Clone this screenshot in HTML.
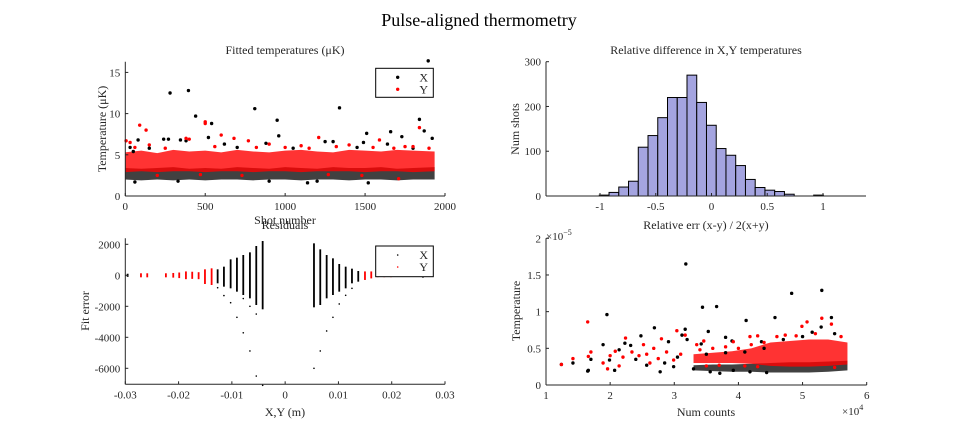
<!DOCTYPE html>
<html><head><meta charset="utf-8">
<style>
html,body{margin:0;padding:0;background:#fff;}
svg{display:block;font-family:"Liberation Serif",serif;}
.tk{font-size:11px;fill:#262626;}
.lb{font-size:12px;fill:#262626;}
</style></head>
<body>
<svg id="fig" width="958" height="434" viewBox="0 0 958 434">
<text x="479" y="26" text-anchor="middle" font-size="18" fill="#000">Pulse-aligned thermometry</text>
</svg>
<script>
// ---------- Panel 1: fitted temperatures ----------
const tempXTicks=[0,500,1000,1500,2000];
const tempYTicks=[0,5,10,15];
const tempBandShot=[0,100,200,300,400,500,600,700,800,900,1000,1100,1200,1300,1400,1500,1600,1700,1800,1935];
const blackBandLow=[2.0,1.9,2.0,1.9,2.0,1.9,2.0,2.0,1.9,2.0,2.0,1.9,2.0,2.0,1.9,2.0,2.0,1.9,2.0,2.0];
const blackBandHigh=[3.4,3.3,3.4,3.5,3.3,3.4,3.3,3.5,3.4,3.3,3.5,3.4,3.3,3.5,3.4,3.4,3.5,3.3,3.4,3.5];
const redBandLow=[2.9,3.0,2.9,3.0,3.0,2.9,3.0,3.0,2.9,3.0,3.0,2.9,3.0,3.0,3.0,2.9,3.0,3.0,2.9,3.0];
const redBandHigh=[5.3,5.5,5.2,5.6,5.4,5.5,5.3,5.6,5.4,5.3,5.5,5.6,5.4,5.3,5.6,5.5,5.4,5.6,5.5,5.4];
const xOutShot=[280,395,440,540,520,810,950,960,1340,1510,1660,1730,1840,1870,1895,1920,80,240,270,345,380,880,1300,1490,60,1140,1520,30,50,620,1250,1640,150,700,1050,1450,1800,330,1200,900];
const xOutTemp=[12.5,12.8,9.7,8.8,7.1,10.6,9.2,7.3,10.7,7.6,7.8,7.2,9.3,7.9,16.4,7.0,6.8,6.9,6.9,6.8,6.7,6.4,6.6,6.5,1.7,1.6,1.6,5.9,5.4,6.3,6.6,6.3,5.8,5.9,5.8,5.9,5.8,1.8,1.8,1.8];
const yOutShot=[5,90,130,30,150,500,500,380,600,680,770,1210,1590,1840,1800,1710,400,900,1100,1400,1750,60,250,560,820,1000,1150,1320,1550,1680,1900,200,470,730,1270,1480];
const yOutTemp=[6.7,8.6,8.0,6.5,6.2,9.0,8.8,7.0,7.4,7.0,6.7,7.1,6.8,8.3,6.0,2.1,6.9,6.3,6.1,6.2,6.0,5.9,5.8,6.0,5.9,5.9,5.8,6.0,5.9,5.8,5.8,2.5,2.6,2.5,2.6,2.5];

// ---------- Panel 2: residuals ----------
const resXTicks=[-0.03,-0.02,-0.01,0,0.01,0.02,0.03];
const resYTicks=[2000,0,-2000,-4000,-6000];
const resBlackPos=[-0.02956,-0.01267,-0.01149,-0.01023,-0.00905,-0.00786,-0.00661,-0.00542,-0.00422,0.00541,0.00659,0.00779,0.00897,0.01015,0.01136,0.01254,0.01372,0.02586];
const resBlackTop=[100,385,557,1030,1137,1309,1481,1890,2212,2062,1675,1309,1095,729,557,428,277,0];
const resBlackBot=[-100,-518,-733,-841,-1056,-1271,-1486,-1916,-2195,-2066,-1916,-1486,-1271,-1056,-841,-518,-411,-150];
const resRedPos=[-0.02706,-0.02588,-0.02238,-0.02100,-0.01988,-0.01862,-0.01744,-0.01624,-0.01505,-0.01380,0.01498,0.01616,0.01736,0.01860,0.01986,0.02104,0.02224];
const resRedTop=[130,130,130,150,180,250,230,200,385,449,250,250,80,60,40,30,20];
const resRedBot=[-130,-130,-130,-150,-180,-250,-230,-250,-561,-626,-300,-200,-120,-120,-120,-110,-100];
const resOutPos=[-0.01267,-0.01149,-0.01023,-0.00905,-0.00786,-0.00786,-0.00661,-0.00661,-0.00542,-0.00542,-0.00422,0.00541,0.00659,0.00779,0.00897,0.01015,0.01136,0.01254];
const resOutVal=[-800,-1310,-1767,-2710,-1500,-3710,-2000,-4880,-2500,-6500,-7100,-6000,-4880,-3590,-2710,-1850,-1290,-840];

// ---------- Panel 3: histogram ----------
const histStart=-1.356;
const histWidth=0.0874;
const histCounts=[0,0,0,0,2,8,20,33,109,135,175,220,220,270,209,158,106,91,68,37,19,13,10,4,0,0,2,0,0,0,0];
const histXTicks=[-1,-0.5,0,0.5,1];
const histYTicks=[0,100,200,300];

// ---------- Panel 4: temperature vs counts ----------
const cntXTicks=[1,2,3,4,5,6];
const cntYTicks=[0,0.5,1,1.5,2];
const cntBandX=[3.3,3.6,3.9,4.2,4.5,4.8,5.1,5.4,5.7];
const cntBlackLow=[0.2,0.19,0.18,0.18,0.17,0.17,0.17,0.18,0.2];
const cntBlackHigh=[0.27,0.28,0.28,0.29,0.3,0.31,0.31,0.32,0.33];
const cntRedLow=[0.3,0.3,0.3,0.29,0.26,0.25,0.25,0.26,0.28];
const cntRedHigh=[0.42,0.44,0.46,0.5,0.58,0.6,0.62,0.62,0.58];
const cntBlackX=[1.24,1.42,1.65,1.66,1.70,1.89,1.95,1.99,2.07,2.14,2.23,2.32,2.48,2.69,2.91,3.12,3.17,3.18,3.20,3.42,3.44,3.53,3.66,3.80,3.90,4.12,4.36,4.57,4.83,5.15,5.30,5.45,5.29,2.57,2.78,2.99,3.30,3.56,3.71,3.92,4.18,4.44,2.4,2.85,3.05,3.5,3.8,4.1,4.4,4.7,5.0,5.5];
const cntBlackY=[0.28,0.30,0.19,0.20,0.35,0.55,0.96,0.34,0.20,0.48,0.57,0.54,0.67,0.78,0.59,0.68,0.76,1.65,0.62,0.56,1.06,0.73,1.07,0.65,0.60,0.88,0.59,0.92,1.25,0.72,1.29,0.92,0.79,0.27,0.18,0.25,0.22,0.18,0.16,0.20,0.18,0.17,0.35,0.3,0.38,0.42,0.44,0.45,0.5,0.62,0.66,0.7];
const cntRedX=[1.24,1.42,1.65,1.66,1.70,1.89,1.96,2.00,2.14,2.24,2.34,2.52,2.68,2.80,3.04,3.17,3.35,3.46,3.92,4.18,4.30,4.73,4.99,5.07,5.30,5.45,2.08,2.57,2.88,2.99,2.2,2.45,2.75,3.1,2.62,3.4,3.6,3.8,4.0,4.2,4.4,3.5,3.7,4.1,4.6,4.9,5.2,5.6,5.5,4.3];
const cntRedY=[0.28,0.36,0.86,0.39,0.45,0.30,0.22,0.40,0.26,0.64,0.45,0.55,0.50,0.63,0.74,0.68,0.55,0.60,0.59,0.66,0.67,0.68,0.80,0.86,0.91,0.83,0.46,0.42,0.45,0.34,0.38,0.4,0.36,0.42,0.3,0.48,0.5,0.52,0.5,0.55,0.58,0.26,0.27,0.26,0.66,0.67,0.7,0.66,0.24,0.25];

const NS='http://www.w3.org/2000/svg';
const fig=document.getElementById('fig');
function el(tag,attrs,parent){const e=document.createElementNS(NS,tag);for(const k in attrs)e.setAttribute(k,attrs[k]);(parent||fig).appendChild(e);return e;}
function lin(d0,d1,p0,p1){return v=>p0+(v-d0)*(p1-p0)/(d1-d0);}

function axes(name,L,R,T,B,sx,sy,xt,yt,xfmt,yfmt){
  const g=el('g',{});
  
  
  const xa=el('line',{x1:L,y1:B,x2:R,y2:B,stroke:'#262626','stroke-width':1},g);
  
  
  const ya=el('line',{x1:L,y1:T,x2:L,y2:B,stroke:'#262626','stroke-width':1},g);
  
  
  xt.forEach(v=>{const x=sx(v);
    el('line',{x1:x,y1:B,x2:x,y2:B-3,stroke:'#262626'},g);
    const t=el('text',{x:x,y:B+14,'text-anchor':'middle',class:'tk'},g);t.textContent=xfmt(v);
    
    });
  yt.forEach(v=>{const y=sy(v);
    el('line',{x1:L,y1:y,x2:L+3,y2:y,stroke:'#262626'},g);
    const t=el('text',{x:L-5,y:y+4,'text-anchor':'end',class:'tk'},g);t.textContent=yfmt(v);
    
    });
}
function label(txt,x,y,rot,name,size){
  const t=el('text',{x:x,y:y,'text-anchor':'middle',class:'lb'});
  if(size)t.setAttribute('font-size',size);
  if(rot)t.setAttribute('transform','rotate(-90 '+x+' '+y+')');
  t.textContent=txt;
  
  
  return t;
}
function band(xs,lo,hi,sx,sy,color,op,name){
  let d='M'+xs.map((x,i)=>sx(x)+','+sy(hi[i])).join('L');
  for(let i=xs.length-1;i>=0;i--)d+='L'+sx(xs[i])+','+sy(lo[i]);
  const p=el('path',{d:d+'Z',fill:color,'fill-opacity':op});
  
  
}
function dots(xs,ys,sx,sy,color,r,name){
  const g=el('g',{fill:color});
  
  
  xs.forEach((x,i)=>{const c=el('circle',{cx:sx(x),cy:sy(ys[i]),r:r},g);
    
    });
}
function legend(name,x0,y0,w,h,r){
  const g=el('g',{});
  
  
  el('rect',{x:x0,y:y0,width:w,height:h,fill:'#fff',stroke:'#000','stroke-width':1},g);
  [['X','#000'],['Y','#f00']].forEach((e,i)=>{
    const yy=y0+9+i*12;
    el('circle',{cx:x0+22,cy:yy,r:r,fill:e[1]},g);
    const t=el('text',{x:x0+48,y:yy+4,class:'lb','text-anchor':'middle'},g);t.textContent=e[0];
    
    
  });
}

// Panel 1
{
  const L=125.3,R=445,T=61.7,B=196;
  const sx=lin(0,2000,L,R), sy=lin(0,16.3,B,T);
  band(tempBandShot,blackBandLow,blackBandHigh,sx,sy,'#111',0.8,'x-temp-band');
  band(tempBandShot,redBandLow,redBandHigh,sx,sy,'#f00',0.8,'y-temp-band');
  dots(xOutShot,xOutTemp,sx,sy,'#000',1.7,'x-temp-series');
  dots(yOutShot,yOutTemp,sx,sy,'#f00',1.7,'y-temp-series');
  axes('temp',L,R,T,B,sx,sy,tempXTicks,tempYTicks,v=>String(v),v=>String(v));
  label('Fitted temperatures (\u03BCK)',285,54,false,'temp-title',11);
  label('Temperature (\u03BCK)',106,129,true,'temp-y-axis-title');
  label('Shot number',285,224,false,'temp-x-axis-title');
  legend('temp-legend',375.7,68.3,57.6,29,1.7);
}
// Panel 2
{
  const L=125.3,R=445,T=238.3,B=384.3;
  const sx=lin(-0.03,0.03,L,R), sy=lin(0,2000,275.3,244.3);
  resBlackPos.forEach((p,i)=>{const r=el('rect',{x:sx(p)-0.9,y:sy(resBlackTop[i]),width:1.8,height:Math.max(1,sy(resBlackBot[i])-sy(resBlackTop[i])),fill:'#000'});
    
    });
  resRedPos.forEach((p,i)=>{const r=el('rect',{x:sx(p)-0.9,y:sy(resRedTop[i]),width:1.8,height:Math.max(1,sy(resRedBot[i])-sy(resRedTop[i])),fill:'#f00'});
    
    });
  dots(resOutPos,resOutVal,sx,sy,'#000',0.8,'x-residual-outliers');
  axes('res',L,R,T,B,sx,sy,resXTicks,resYTicks,v=>String(v),v=>String(v));
  label('Residuals',285,229,false,'residuals-title',11);
  label('Fit error',89,311,true,'residuals-y-axis-title');
  label('X,Y (m)',285,416,false,'residuals-x-axis-title');
  legend('residuals-legend',375.7,246,57.6,30.7,0.8);
}
// Panel 3
{
  const L=546,R=866,T=61.7,B=196;
  const sx=lin(-1,1,600,823), sy=lin(0,300,B,T);
  histCounts.forEach((c,i)=>{const x0=sx(histStart+i*histWidth),x1=sx(histStart+(i+1)*histWidth);
    const r=el('rect',{x:x0,y:sy(c),width:x1-x0,height:B-sy(c),fill:'#a4a4e0',stroke:'#000','stroke-width':1});
    
    });
  axes('hist',L,R,T,B,sx,sy,histXTicks,histYTicks,v=>String(v),v=>String(v));
  label('Relative difference in X,Y temperatures',706,54,false,'histogram-title',11);
  label('Num shots',519,129,true,'histogram-y-axis-title');
  label('Relative err (x-y) / 2(x+y)',706,229,false,'histogram-x-axis-title');
}
// Panel 4
{
  const L=546,R=866.7,T=238.3,B=385;
  const sx=lin(1,6,L,R), sy=lin(0,2,B,T);
  band(cntBandX,cntBlackLow,cntBlackHigh,sx,sy,'#111',0.8,'x-count-band');
  band(cntBandX,cntRedLow,cntRedHigh,sx,sy,'#f00',0.8,'y-count-band');
  dots(cntBlackX,cntBlackY,sx,sy,'#000',1.7,'x-count-series');
  dots(cntRedX,cntRedY,sx,sy,'#f00',1.7,'y-count-series');
  axes('count',L,R,T,B,sx,sy,cntXTicks,cntYTicks,v=>String(v),v=>String(v));
  label('Temperature',520,311,true,'count-y-axis-title');
  label('Num counts',706,416,false,'count-x-axis-title');
  const e1=el('text',{x:546,y:240,class:'tk'});e1.innerHTML='\u00D710<tspan dy="-5" font-size="8">\u22125</tspan>';
  
  
  const e2=el('text',{x:842,y:415,class:'tk'});e2.innerHTML='\u00D710<tspan dy="-5" font-size="8">4</tspan>';
  
  
}
</script>
</body></html>
